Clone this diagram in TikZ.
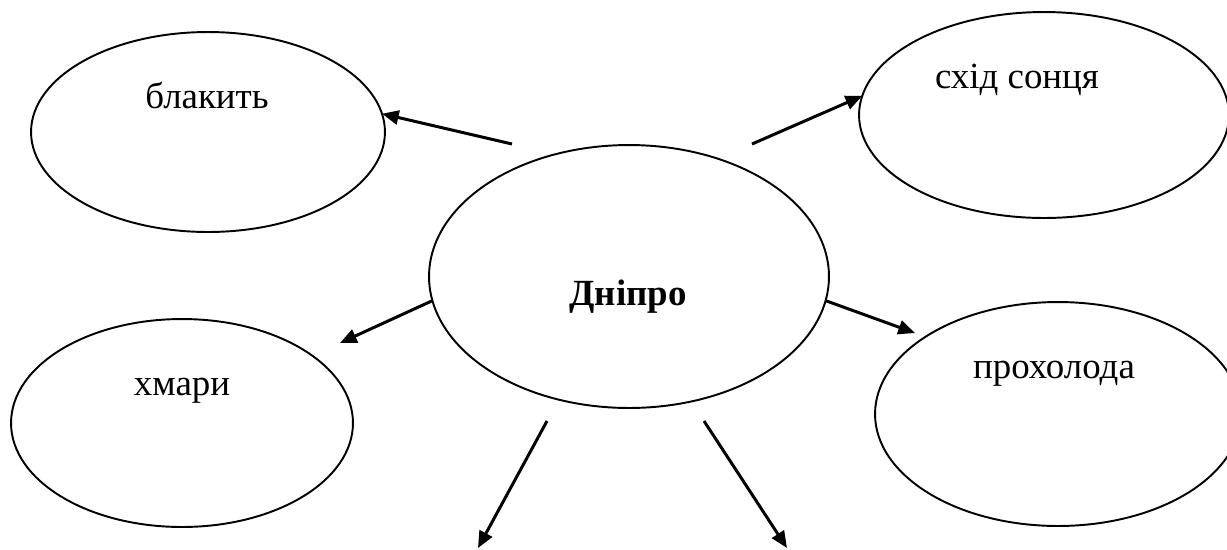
\documentclass[tikz,border=0pt]{standalone}
\usepackage{fontspec}
\setmainfont{Liberation Serif}
\usetikzlibrary{shapes.geometric,arrows.meta}
\begin{document}
\begin{tikzpicture}[x=0.02cm,y=-0.02cm,
  bub/.style={draw,ellipse,line width=1.1pt,inner sep=0pt,outer sep=0pt},
  lbl/.style={anchor=base,inner sep=0pt,font=\fontsize{21}{25}\selectfont},
  arr/.style={line width=1.7pt,-{Triangle[length=9.5pt,width=8pt]}}]
\useasboundingbox (0,0) rectangle (1227,549);
\clip (0,0) rectangle (1227,549);
% ellipses
\node[bub,minimum width=7.08cm,minimum height=4.0cm] (b) at (208,132) {};
\node[bub,minimum width=7.4cm,minimum height=4.12cm] (s) at (1044,115) {};
\node[bub,minimum width=8.0cm,minimum height=5.26cm] (d) at (629,276.5) {};
\node[bub,minimum width=6.84cm,minimum height=4.16cm] (h) at (182,423) {};
\node[bub,minimum width=7.32cm,minimum height=4.48cm] (p) at (1058,414) {};
% texts
\node[lbl] (tb) at (207,108) {блакить};
\node[lbl] (ts) at (1017,88) {схід сонця};
\node[lbl,font=\fontsize{21}{25}\selectfont\bfseries] (td) at (628,305) {Дніпро};
\node[lbl] (th) at (182,395) {хмари};
\node[lbl] (tp) at (1054,378) {прохолода};
% arrow ends
\coordinate (a1) at (512,144);
\coordinate (a2) at (752,144);
\coordinate (e3) at (340,343);
\coordinate (e4) at (915,333);
\coordinate (a5) at (547,421);
\coordinate (e5) at (478,548);
\coordinate (a6) at (704,421);
\coordinate (e6) at (787,548);
% arrows
\draw[arr] (a1) -- (b.6);
\draw[arr] (a2) -- (s.174.7);
\draw[arr] (d.187) -- (e3);
\draw[arr] (d.-7) -- (e4);
\draw[arr] (a5) -- (e5);
\draw[arr] (a6) -- (e6);
\end{tikzpicture}
\end{document}
